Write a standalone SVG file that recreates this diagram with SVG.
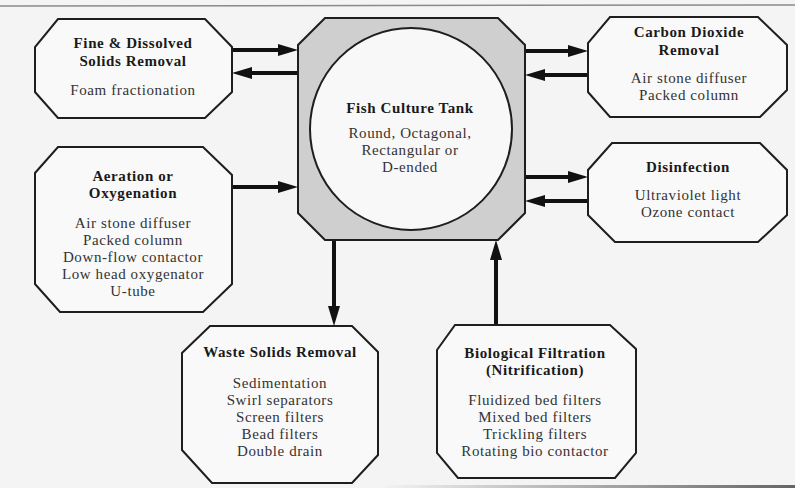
<svg xmlns="http://www.w3.org/2000/svg" width="795" height="488" viewBox="0 0 795 488">
  <defs>
    <style>
      .box { fill: #f9f9f9; stroke: #1e1e1e; stroke-width: 2; stroke-linejoin: miter; }
      .tank { fill: #cfcfcf; stroke: #1e1e1e; stroke-width: 2; }
      .circle { fill: #f8f8f8; stroke: #1e1e1e; stroke-width: 2; }
      .t { font-family: "Liberation Serif", "Times New Roman", serif; font-size: 15px; letter-spacing: 0.6px; font-weight: bold; fill: #1a1a1a; text-anchor: middle; }
      .i { font-family: "Liberation Serif", "Times New Roman", serif; font-size: 15px; letter-spacing: 0.6px; fill: #333333; text-anchor: middle; }
      .arrow { stroke: #111111; stroke-width: 4; fill: none; marker-end: url(#ah); }
    </style>
    <marker id="ah" viewBox="0 0 20 12" refX="5" refY="6" markerWidth="20" markerHeight="12" markerUnits="userSpaceOnUse" orient="auto">
      <path d="M0,0 L20,6 L0,12 z" fill="#111111"/>
    </marker>
    <linearGradient id="bot" x1="0" y1="0" x2="1" y2="0">
      <stop offset="0" stop-color="#555" stop-opacity="0"/>
      <stop offset="1" stop-color="#555" stop-opacity="0.9"/>
    </linearGradient>
  </defs>
  <rect x="0" y="0" width="795" height="488" fill="#f4f4f4"/>
  <line x1="0" y1="6" x2="795" y2="5" stroke="#8a8a8a" stroke-width="1.5"/>
  <rect x="380" y="485" width="415" height="3" fill="url(#bot)"/>

  <g id="connectors">
    <line class="arrow" x1="232" y1="50" x2="283" y2="50"/>
    <line class="arrow" x1="298" y1="73" x2="247" y2="73"/>
    <line class="arrow" x1="232" y1="187" x2="283" y2="187"/>
    <line class="arrow" x1="525" y1="51" x2="573" y2="51"/>
    <line class="arrow" x1="588" y1="75" x2="540" y2="75"/>
    <line class="arrow" x1="525" y1="177" x2="573" y2="177"/>
    <line class="arrow" x1="588" y1="201" x2="540" y2="201"/>
    <line class="arrow" x1="334" y1="240" x2="334" y2="311"/>
    <line class="arrow" x1="496" y1="325" x2="496" y2="255"/>
  </g>

  <g id="fine-solids">
    <polygon class="box" points="58,19 205,19 232,47 232,92 205,118 58,118 35,92 35,47"/>
    <text class="t" x="133" y="48">Fine &amp; Dissolved</text>
    <text class="t" x="133" y="66">Solids Removal</text>
    <text class="i" x="133" y="95">Foam fractionation</text>
  </g>

  <g id="aeration">
    <polygon class="box" points="58,147 203,147 232,175 232,284 203,312 60,312 35,284 35,173"/>
    <text class="t" x="133" y="181">Aeration or</text>
    <text class="t" x="133" y="198">Oxygenation</text>
    <text class="i" x="133" y="228">Air stone diffuser</text>
    <text class="i" x="133" y="245">Packed column</text>
    <text class="i" x="133" y="262">Down-flow contactor</text>
    <text class="i" x="133" y="279">Low head oxygenator</text>
    <text class="i" x="133" y="296">U-tube</text>
  </g>

  <g id="tank">
    <polygon class="tank" points="325,18 498,18 525,45 525,213 498,240 325,240 298,213 298,45"/>
    <circle class="circle" cx="411" cy="129" r="101"/>
    <text class="t" x="410" y="113">Fish Culture Tank</text>
    <text class="i" x="410" y="138">Round, Octagonal,</text>
    <text class="i" x="410" y="155">Rectangular or</text>
    <text class="i" x="410" y="172">D-ended</text>
  </g>

  <g id="co2">
    <polygon class="box" points="610,17 758,17 787,45 787,90 760,117 610,117 588,92 588,43"/>
    <text class="t" x="689" y="37">Carbon Dioxide</text>
    <text class="t" x="689" y="55">Removal</text>
    <text class="i" x="689" y="83">Air stone diffuser</text>
    <text class="i" x="689" y="100">Packed column</text>
  </g>

  <g id="disinfection">
    <polygon class="box" points="612,143 760,143 787,170 787,215 758,242 615,242 588,215 588,170"/>
    <text class="t" x="688" y="172">Disinfection</text>
    <text class="i" x="688" y="200">Ultraviolet light</text>
    <text class="i" x="688" y="217">Ozone contact</text>
  </g>

  <g id="waste">
    <polygon class="box" points="210,326 352,326 378,352 378,455 352,483 212,483 182,450 182,353"/>
    <text class="t" x="280" y="357">Waste Solids Removal</text>
    <text class="i" x="280" y="388">Sedimentation</text>
    <text class="i" x="280" y="405">Swirl separators</text>
    <text class="i" x="280" y="422">Screen filters</text>
    <text class="i" x="280" y="439">Bead filters</text>
    <text class="i" x="280" y="456">Double drain</text>
  </g>

  <g id="biofilter">
    <polygon class="box" points="455,325 610,325 636,349 636,453 615,478 458,478 437,453 437,350"/>
    <text class="t" x="535" y="358">Biological Filtration</text>
    <text class="t" x="535" y="375">(Nitrification)</text>
    <text class="i" x="535" y="405">Fluidized bed filters</text>
    <text class="i" x="535" y="422">Mixed bed filters</text>
    <text class="i" x="535" y="439">Trickling filters</text>
    <text class="i" x="535" y="456">Rotating bio contactor</text>
  </g>
</svg>
